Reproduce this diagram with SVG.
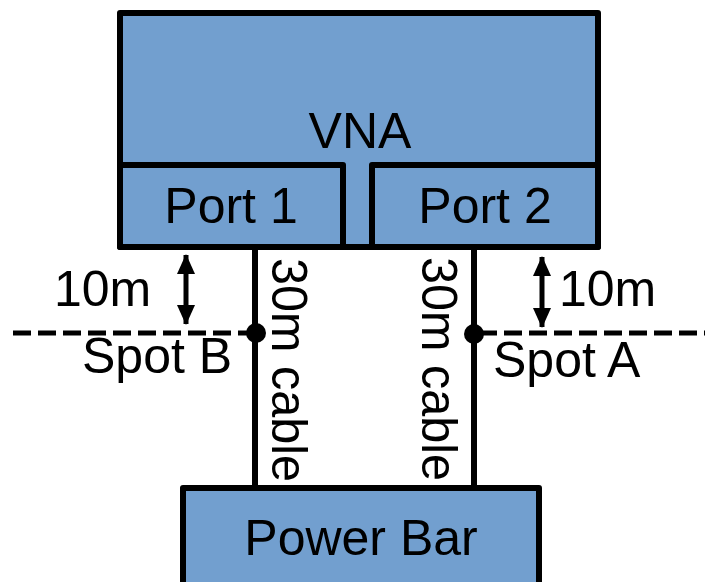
<svg xmlns="http://www.w3.org/2000/svg" width="705" height="582" viewBox="0 0 705 582">
  <defs>
    <style>
      .box { fill: #729fcf; stroke: #000; stroke-width: 6; stroke-linejoin: round; }
      .lbl { font-family: "Liberation Sans", Arial, sans-serif; font-size: 50px; fill: #000; }
      .mid { text-anchor: middle; }
      .cable { stroke: #000; stroke-width: 6; fill: none; }
      .dash { stroke: #000; stroke-width: 5; stroke-dasharray: 18 7; fill: none; }
      .shaft { stroke: #000; stroke-width: 5; fill: none; }
    </style>
    <marker id="ah" viewBox="0 0 20 18" refX="19" refY="9" markerWidth="20" markerHeight="18" markerUnits="userSpaceOnUse" orient="auto-start-reverse">
      <path d="M0,0 L20,9 L0,18 Z" fill="#000"/>
    </marker>
  </defs>
  <rect width="705" height="582" fill="#fff"/>

  <g id="connectors">
    <line class="cable" x1="255" y1="247" x2="255" y2="488"/>
    <line class="cable" x1="474" y1="247" x2="474" y2="488"/>
    <line class="dash" x1="13" y1="333" x2="250" y2="333"/>
    <line class="dash" x1="479" y1="333" x2="705" y2="333"/>
    <circle cx="256" cy="333" r="10" fill="#000"/>
    <circle cx="474" cy="334" r="10" fill="#000"/>
    <line class="shaft" x1="186" y1="255" x2="186" y2="324" marker-start="url(#ah)" marker-end="url(#ah)"/>
    <line class="shaft" x1="542" y1="257" x2="542" y2="327" marker-start="url(#ah)" marker-end="url(#ah)"/>
  </g>

  <g id="vna">
    <rect class="box" x="120" y="13" width="478" height="234"/>
    <text class="lbl mid" x="360" y="148">VNA</text>
  </g>
  <g id="port1">
    <rect class="box" x="120" y="165" width="223" height="82"/>
    <text class="lbl mid" x="231" y="223">Port 1</text>
  </g>
  <g id="port2">
    <rect class="box" x="372" y="165" width="226" height="82"/>
    <text class="lbl mid" x="485" y="223">Port 2</text>
  </g>
  <g id="powerbar">
    <rect class="box" x="183" y="488" width="356" height="120"/>
    <text class="lbl mid" x="361" y="555">Power Bar</text>
  </g>

  <g id="labels">
    <text class="lbl" x="54" y="306">10m</text>
    <text class="lbl" x="559" y="306">10m</text>
    <text class="lbl" x="82" y="373">Spot B</text>
    <text class="lbl" x="493" y="377">Spot A</text>
    <text class="lbl" font-size="43" transform="translate(272,258) rotate(90)" textLength="224" lengthAdjust="spacingAndGlyphs">30m cable</text>
    <text class="lbl" font-size="43" transform="translate(422,257) rotate(90)" textLength="224" lengthAdjust="spacingAndGlyphs">30m cable</text>
  </g>
</svg>
